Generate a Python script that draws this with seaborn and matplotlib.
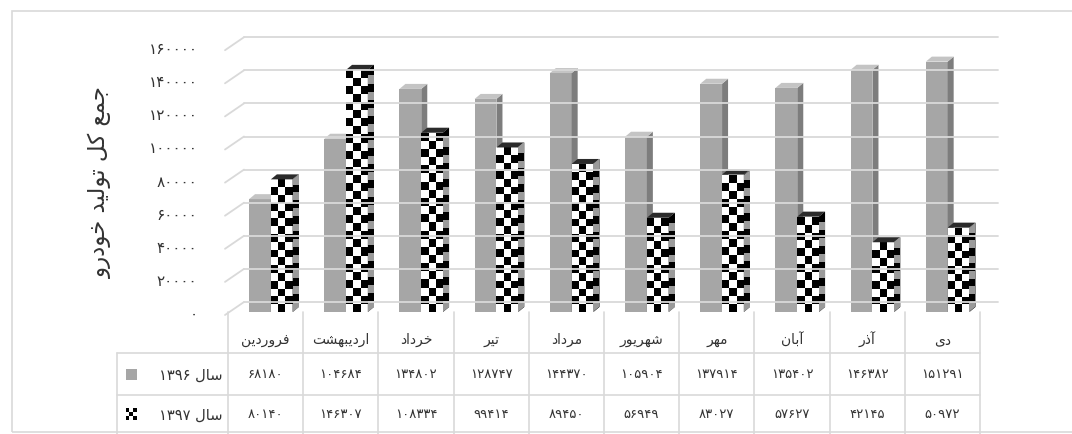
import numpy as np
import pandas as pd
import matplotlib
matplotlib.use("Agg")
import matplotlib.pyplot as plt
from matplotlib.colors import ListedColormap
from matplotlib.patches import Polygon, Rectangle
from matplotlib.lines import Line2D
import seaborn as sns

# ---- data -------------------------------------------------------------
months = ["فروردین", "اردیبهشت", "خرداد", "تیر", "مرداد",
          "شهریور", "مهر", "آبان", "آذر", "دی"]
year_labels = ["سال ۱۳۹۶", "سال ۱۳۹۷"]
values_1396 = [68180, 104684, 134802, 128747, 144370,
               105904, 137914, 135402, 146382, 151291]
values_1397 = [80140, 146307, 108334, 99414, 89450,
               56949, 83027, 57627, 42145, 50972]
y_ticks = [0, 20000, 40000, 60000, 80000, 100000, 120000, 140000, 160000]
y_title = "جمع کل تولید خودرو"

# ---- minimal Persian shaping (presentation forms + visual order) ------
FORMS = {
    'ا': ('\uFE8D', '\uFE8E', None, None),
    'آ': ('\uFE81', '\uFE82', None, None),
    'ب': ('\uFE8F', '\uFE90', '\uFE91', '\uFE92'),
    'ت': ('\uFE95', '\uFE96', '\uFE97', '\uFE98'),
    'ج': ('\uFE9D', '\uFE9E', '\uFE9F', '\uFEA0'),
    'خ': ('\uFEA5', '\uFEA6', '\uFEA7', '\uFEA8'),
    'د': ('\uFEA9', '\uFEAA', None, None),
    'ذ': ('\uFEAB', '\uFEAC', None, None),
    'ر': ('\uFEAD', '\uFEAE', None, None),
    'س': ('\uFEB1', '\uFEB2', '\uFEB3', '\uFEB4'),
    'ش': ('\uFEB5', '\uFEB6', '\uFEB7', '\uFEB8'),
    'ع': ('\uFEC9', '\uFECA', '\uFECB', '\uFECC'),
    'ف': ('\uFED1', '\uFED2', '\uFED3', '\uFED4'),
    'ک': ('\uFB8E', '\uFB8F', '\uFB90', '\uFB91'),
    'ل': ('\uFEDD', '\uFEDE', '\uFEDF', '\uFEE0'),
    'م': ('\uFEE1', '\uFEE2', '\uFEE3', '\uFEE4'),
    'ن': ('\uFEE5', '\uFEE6', '\uFEE7', '\uFEE8'),
    'ه': ('\uFEE9', '\uFEEA', '\uFEEB', '\uFEEC'),
    'و': ('\uFEED', '\uFEEE', None, None),
    'ی': ('\uFBFC', '\uFBFD', '\uFBFE', '\uFBFF'),
}


def shape_word(word):
    out = []
    for i, c in enumerate(word):
        if c not in FORMS:
            out.append(c)
            continue
        prev = word[i - 1] if i > 0 else None
        nxt = word[i + 1] if i + 1 < len(word) else None
        join_prev = prev in FORMS and FORMS[prev][2] is not None
        join_next = nxt in FORMS and FORMS[c][2] is not None
        iso, fin, ini, med = FORMS[c]
        if join_prev and join_next:
            out.append(med)
        elif join_prev:
            out.append(fin)
        elif join_next:
            out.append(ini)
        else:
            out.append(iso)
    return "".join(out)


def rtl(text):
    tokens = text.split(" ")
    vis = []
    for t in reversed(tokens):
        if any(ch in FORMS for ch in t):
            vis.append(shape_word(t)[::-1])
        else:
            vis.append(t)
    return " ".join(vis)


FA_DIGITS = str.maketrans("0123456789", "۰۱۲۳۴۵۶۷۸۹")


def fa_num(v):
    return str(v).translate(FA_DIGITS)


# ---- style --------------------------------------------------------------
sns.set_style("white")
plt.rcParams["font.family"] = ["DejaVu Sans"]
TEXT = "#333333"
GRID = "#d9d9d9"

W, H = 1072, 435
fig = plt.figure(figsize=(W / 100, H / 100), dpi=100)

# outer chart frame
fig.add_artist(Rectangle((12 / W, 2 / H), (W + 5 - 12) / W, (423 - 2) / H,
                         transform=fig.transFigure, fill=False,
                         edgecolor=GRID, lw=1.2))

# ---- main bar axes ------------------------------------------------------
X0, X1 = 228, 980          # front floor, pixels
Y0_TOP = 313               # baseline (pixels from top)
YMAX = 170000
PX_PER_UNIT = 33.1 / 20000
ax_h = YMAX * PX_PER_UNIT
ax = fig.add_axes([X0 / W, (H - Y0_TOP) / H, (X1 - X0) / W, ax_h / H])

df = pd.DataFrame({
    "month": months * 2,
    "value": values_1396 + values_1397,
    "year": [year_labels[0]] * len(months) + [year_labels[1]] * len(months),
})
sns.barplot(data=df, x="month", y="value", hue="year", order=months,
            hue_order=year_labels, palette=["#a6a6a6", "#ffffff"],
            width=0.58, saturation=1, legend=False, ax=ax, zorder=2)

shift = 0.07
ax.set_xlim(-0.5 - shift, 9.5 - shift)
ax.set_ylim(0, YMAX)
for s in ax.spines.values():
    s.set_visible(False)
ax.set_xlabel("")
ax.set_ylabel("")
ax.tick_params(axis="x", labelbottom=False, length=0)
ax.set_yticks(y_ticks, [fa_num(v) for v in y_ticks])
ax.tick_params(axis="y", length=0, pad=22, labelsize=11, labelcolor=TEXT)
ax.set_facecolor("none")

# pixel <-> data scale factors from the axes transform
p00 = ax.transData.transform((0, 0))
px_x = ax.transData.transform((1, 0))[0] - p00[0]
px_y = ax.transData.transform((0, 1))[1] - p00[1]

# back wall gridlines with slanted connectors to the front edge
DEPTH_X, DEPTH_Y = 18, 12
left_disp = ax.transAxes.transform((0, 0))[0]
right_disp = ax.transAxes.transform((1, 0))[0]
for v in y_ticks:
    yv = ax.transData.transform((0, v))[1]
    fig.add_artist(Line2D([left_disp - 3, left_disp + DEPTH_X - 2],
                          [yv - 3, yv + DEPTH_Y - 2],
                          transform=None, color=GRID, lw=1.3, zorder=0.5))
    fig.add_artist(Line2D([left_disp + DEPTH_X - 2, right_disp + DEPTH_X],
                          [yv + DEPTH_Y - 2, yv + DEPTH_Y - 2],
                          transform=None, color=GRID, lw=1.3, zorder=0.5))

# 3-D depth of the bars
dx = 6 / px_x
dy = 5 / px_y

checker_front = ListedColormap(["#ffffff", "#000000"])
checker_side = ListedColormap(["#9a9a9a", "#000000"])


def add_depth(bar, side_color, top_color, z):
    x0, w, h = bar.get_x(), bar.get_width(), bar.get_height()
    side = Polygon([(x0 + w, 0), (x0 + w + dx, dy), (x0 + w + dx, h + dy),
                    (x0 + w, h)], closed=True, facecolor=side_color,
                   edgecolor="none", zorder=z)
    top = Polygon([(x0, h), (x0 + dx, h + dy), (x0 + w + dx, h + dy),
                   (x0 + w, h)], closed=True, facecolor=top_color,
                  edgecolor="none", zorder=z)
    ax.add_patch(side)
    ax.add_patch(top)
    return side, top


for bar in ax.containers[0]:
    bar.set_zorder(2)
    bar.set_edgecolor("none")
    add_depth(bar, "#7d7d7d", "#c4c4c4", 2.1)

CELL_PX = 8.0
for bar in ax.containers[1]:
    bar.set_zorder(3)
    bar.set_edgecolor("none")
    x0, w, h = bar.get_x(), bar.get_width(), bar.get_height()
    n_rows = max(2, int(round(h * px_y / CELL_PX)))
    xe = np.linspace(x0, x0 + w, 4)
    ye = np.linspace(0, h, n_rows + 1)
    cells = np.indices((n_rows, 3)).sum(axis=0) % 2
    mesh = ax.pcolormesh(xe, ye, cells, cmap=checker_front, vmin=0, vmax=1,
                         shading="flat", zorder=3.05, antialiased=False)
    mesh.set_clip_path(bar)
    side, top = add_depth(bar, "#000000", "#2b2b2b", 3.1)
    xs = np.array([x0 + w, x0 + w + dx])
    ys = np.linspace(0, h, n_rows + 1) + dy / 2
    ys[0], ys[-1] = 0, h + dy
    side_cells = (np.arange(n_rows) % 2).reshape(-1, 1)
    smesh = ax.pcolormesh(xs, ys, side_cells, cmap=checker_side, vmin=0,
                          vmax=1, shading="flat", zorder=3.15,
                          antialiased=False)
    smesh.set_clip_path(side)

ax.set_xlim(-0.5 - shift, 9.5 - shift)
ax.set_ylim(0, YMAX)

# y-axis title
fig.text(100 / W, (H - 182) / H, rtl(y_title), rotation=90, ha="center",
         va="center", fontsize=16.5, color=TEXT)

# ---- data table under the chart ----------------------------------------
tab_h = H - Y0_TOP
tab = fig.add_axes([X0 / W, 0, (X1 - X0) / W, tab_h / H])
tab.set_xlim(-0.5, 9.5)
tab.set_ylim(tab_h, 0)
tab.axis("off")

col_w = (X1 - X0) / 10
leg_left = -0.5 - (X0 - 117) / col_w
row_lines = [354 - Y0_TOP, 396 - Y0_TOP]
for xv in np.arange(-0.5, 10.0, 1.0):
    tab.plot([xv, xv], [0, tab_h], color=GRID, lw=1.2, clip_on=False)
tab.plot([leg_left, leg_left], [row_lines[0], tab_h], color=GRID, lw=1.2,
         clip_on=False)
for yl in row_lines:
    tab.plot([leg_left, 9.5], [yl, yl], color=GRID, lw=1.2, clip_on=False)

hdr_y, r1_y, r2_y = 340 - Y0_TOP, 375 - Y0_TOP, 415 - Y0_TOP
for i, m in enumerate(months):
    tab.text(i, hdr_y, rtl(m), ha="center", va="center", fontsize=10,
             color=TEXT)
    tab.text(i, r1_y, fa_num(values_1396[i]), ha="center", va="center",
             fontsize=9.5, color=TEXT)
    tab.text(i, r2_y, fa_num(values_1397[i]), ha="center", va="center",
             fontsize=9.5, color=TEXT)

lab_x = -0.5 - 6 / col_w
tab.text(lab_x, r1_y, rtl(year_labels[0]), ha="right", va="center",
         fontsize=10.5, color=TEXT, clip_on=False)
tab.text(lab_x, r2_y, rtl(year_labels[1]), ha="right", va="center",
         fontsize=10.5, color=TEXT, clip_on=False)

# legend keys
mk_c = -0.5 - (X0 - 131) / col_w
mk_w = 11 / col_w
tab.add_patch(Rectangle((mk_c - mk_w / 2, r1_y - 5.5), mk_w, 11,
                        facecolor="#a6a6a6", edgecolor="none",
                        clip_on=False))
kx = np.linspace(mk_c - mk_w / 2, mk_c + mk_w / 2, 4)
ky = np.linspace(r2_y - 6, r2_y + 6, 4)
key = np.indices((3, 3)).sum(axis=0) % 2
tab.pcolormesh(kx, ky, 1 - key, cmap=checker_front, vmin=0, vmax=1,
               shading="flat", antialiased=False, clip_on=False)
tab.set_xlim(-0.5, 9.5)
tab.set_ylim(tab_h, 0)

fig.savefig("out.png", dpi=100)
